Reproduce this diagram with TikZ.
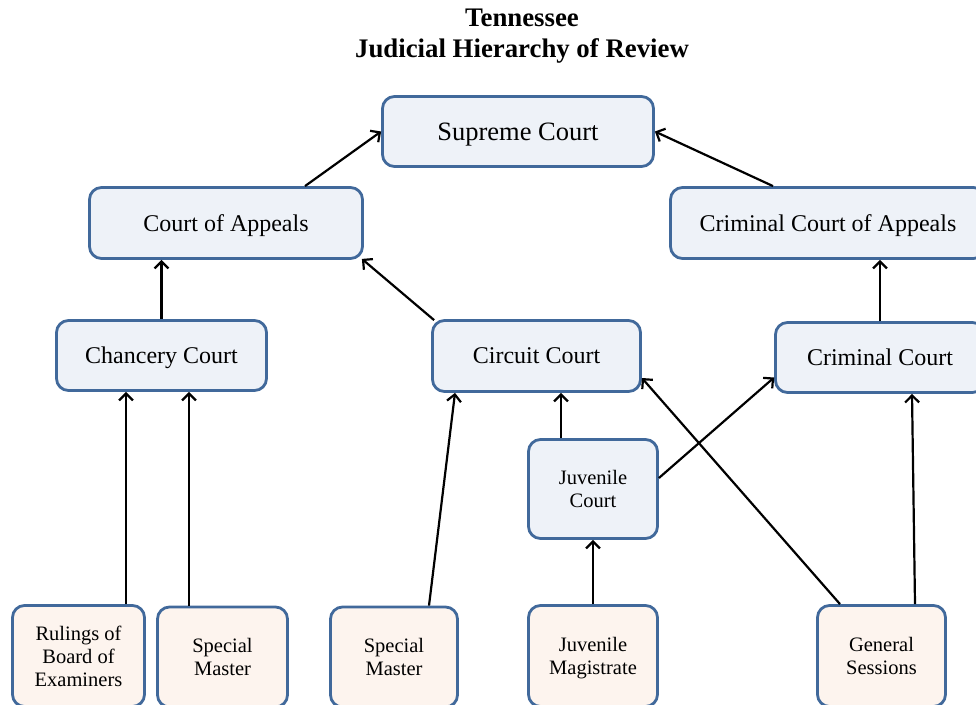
\documentclass[tikz,border=0pt]{standalone}
\usepackage{fontspec}
\setmainfont{Liberation Serif}
\usetikzlibrary{arrows.meta}
\definecolor{courtline}{HTML}{41699B}
\definecolor{courtfill}{HTML}{EEF2F8}
\definecolor{lowerfill}{HTML}{FDF4EE}

\begin{document}
\begin{tikzpicture}[x=1pt,y=-1pt,
    court/.style={draw=courtline,fill=courtfill,line width=2.8pt,rounded corners=12pt,
      align=center,inner sep=0pt,text depth=0pt,font=\fontsize{24}{28}\selectfont},
    lower/.style={court,fill=lowerfill,font=\fontsize{20.5}{23}\selectfont},
    arr/.style={-{Straight Barb[length=7pt,width=14pt]},line width=2.2pt}]
     \path[use as bounding box] (0,0) rectangle (976,704);
     \clip (0,0) rectangle (976,704);
     \node[font=\bfseries\fontsize{26.8}{31}\selectfont,align=center] (title) at (522,36)
        {Tennessee\\Judicial Hierarchy of Review};
     \node[court,minimum width=271,minimum height=70,font=\fontsize{26.5}{30}\selectfont]
        (sup) at (518,131.5) {Supreme Court};
     \node[court,minimum width=273,minimum height=71] (app)  at (226,223)   {Court of Appeals};
     \node[court,minimum width=315,minimum height=71] (cca)  at (828,223)   {Criminal Court of Appeals};
     \node[court,minimum width=210,minimum height=70] (chan) at (161.5,355.5) {Chancery Court};
     \node[court,minimum width=208,minimum height=71] (circ) at (536.5,356) {Circuit Court};
     \node[court,minimum width=209,minimum height=70] (crim) at (880,357.5) {Criminal Court};
     \node[court,minimum width=129,minimum height=99,font=\fontsize{20.5}{23}\selectfont]
        (juv) at (593,489) {Juvenile\\Court};
     \node[lower,minimum width=132,minimum height=101] (rul) at (78.5,656)  {Rulings of\\Board of\\Examiners};
     \node[lower,minimum width=130,minimum height=100] (sm1) at (222.5,657) {Special\\Master};
     \node[lower,minimum width=127,minimum height=100] (sm2) at (394,657)   {Special\\Master};
     \node[lower,minimum width=129,minimum height=101] (mag) at (593,656)   {Juvenile\\Magistrate};
     \node[lower,minimum width=128,minimum height=101] (gen) at (881.5,656) {General\\Sessions};
     \draw[arr] ([xshift=79pt]app.north) -- (sup.west);
     \draw[arr] ([xshift=-55pt]cca.north) -- (sup.east);
     \draw[arr] (chan.north) -- (chan.north |- app.south);
     \draw[arr] ([shift={(3pt,-1pt)}]circ.north west) -- ([shift={(-2pt,1pt)}]app.south east);
     \draw[arr] (crim.north) -- (crim.north |- cca.south);
     \draw[arr] ([xshift=47.5pt]rul.north) -- ([xshift=47.5pt]rul.north |- chan.south);
     \draw[arr] ([xshift=-33.5pt]sm1.north) -- ([xshift=-33.5pt]sm1.north |- chan.south);
     \draw[arr] ([xshift=35pt]sm2.north) -- ([xshift=-81.5pt]circ.south);
     \draw[arr] ([xshift=-32pt]juv.north) -- ([xshift=-32pt]juv.north |- circ.south);
     \draw[arr] ([yshift=11pt]juv.east) -- ([yshift=-20pt]crim.west);
     \draw[arr] (mag.north) -- (juv.south);
     \draw[arr] ([xshift=-41.5pt]gen.north) -- ([yshift=-22pt]circ.east);
     \draw[arr] ([xshift=33.5pt]gen.north) -- ([xshift=32pt]crim.south);
    \end{tikzpicture}
\end{document}
